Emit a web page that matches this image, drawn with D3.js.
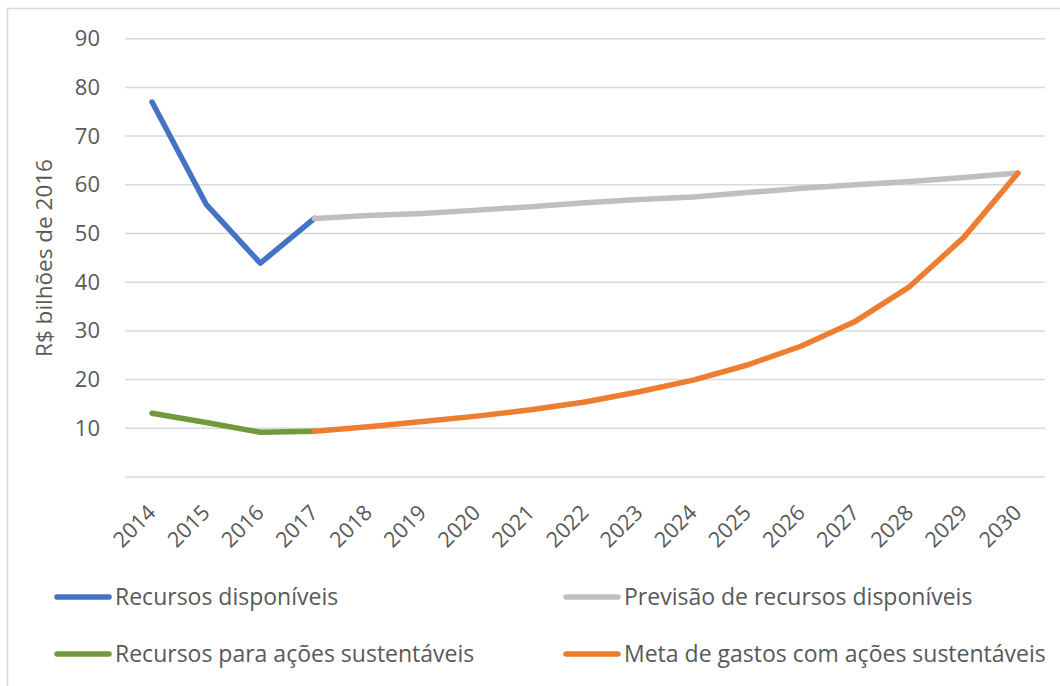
<!DOCTYPE html>
<html>
<head>
<meta charset="utf-8">
<script src="https://cdn.jsdelivr.net/npm/d3@7"></script>
<style>
  html, body { margin: 0; padding: 0; background: #fff; }
  svg { display: block; font-family: "Open Sans", "Noto Sans", sans-serif; }
</style>
</head>
<body>
<svg id="chart" width="1060" height="686"></svg>
<script>
// Anos do eixo horizontal
const years = ["2014","2015","2016","2017","2018","2019","2020","2021","2022",
               "2023","2024","2025","2026","2027","2028","2029","2030"];

// Séries em R$ bilhões de 2016 (null = sem valor naquele ano)
const recursosDisponiveis = [77.0, 56.0, 43.9, 53.1, null, null, null, null, null,
                             null, null, null, null, null, null, null, null];
const previsaoRecursos    = [null, null, null, 53.1, 53.7, 54.1, 54.8, 55.5, 56.3,
                             57.0, 57.5, 58.4, 59.3, 60.0, 60.7, 61.5, 62.4];
const recursosSustentaveis = [13.1, 11.2, 9.2, 9.4, null, null, null, null, null,
                              null, null, null, null, null, null, null, null];
const metaGastos          = [null, null, null, 9.4, 10.3, 11.4, 12.5, 13.8, 15.4,
                             17.5, 19.9, 23.0, 26.9, 32.0, 39.1, 49.2, 62.4];

const yTicks = [10, 20, 30, 40, 50, 60, 70, 80, 90];
const gridValues = [0, 10, 20, 30, 40, 50, 60, 70, 80, 90];

const series = [
  { name: "Recursos disponíveis", values: recursosDisponiveis, color: "#4472C4" },
  { name: "Previsão de recursos disponíveis", values: previsaoRecursos, color: "#BFBFBF" },
  { name: "Recursos para ações sustentáveis", values: recursosSustentaveis, color: "#72993C" },
  { name: "Meta de gastos com ações sustentáveis", values: metaGastos, color: "#ED7D31" }
];

const svg = d3.select("#chart");
const textColor = "#595959";

// Moldura do gráfico
svg.append("rect")
  .attr("x", 7.5).attr("y", 8.5)
  .attr("width", 1100).attr("height", 700)
  .attr("fill", "#fff")
  .attr("stroke", "#d9d9d9").attr("stroke-width", 1.5);

const x = d3.scaleBand().domain(years).range([125, 1045]);
const y = d3.scaleLinear().domain([0, 90]).range([477, 38.7]);
const cx = d => x(d) + x.bandwidth() / 2;

// Linhas de grade
svg.append("g").selectAll("line")
  .data(gridValues).join("line")
  .attr("x1", 125).attr("x2", 1045)
  .attr("y1", d => y(d)).attr("y2", d => y(d))
  .attr("stroke", "#d9d9d9").attr("stroke-width", 1.5);

// Eixo vertical (apenas rótulos)
const yAxis = d3.axisLeft(y).tickValues(yTicks).tickSize(0).tickPadding(0);
const gy = svg.append("g").attr("transform", "translate(100,0)").call(yAxis);
gy.select(".domain").remove();
gy.selectAll("text")
  .attr("fill", textColor)
  .style("font-size", "22px")
  .style("font-family", "'Open Sans', sans-serif");

// Eixo horizontal (rótulos inclinados)
const xAxis = d3.axisBottom(x).tickSize(0).tickPadding(0);
const gx = svg.append("g").attr("transform", "translate(0,477)").call(xAxis);
gx.select(".domain").remove();
gx.selectAll(".tick text")
  .attr("fill", textColor)
  .attr("y", 0).attr("dy", 0)
  .attr("text-anchor", "end")
  .attr("transform", "translate(5,37) rotate(-45)")
  .style("font-size", "21.5px")
  .style("font-family", "'Open Sans', sans-serif");

// Título do eixo vertical
svg.append("text")
  .attr("transform", "translate(52,258) rotate(-90)")
  .attr("text-anchor", "middle")
  .attr("fill", textColor)
  .style("font-size", "22.5px")
  .text("R$ bilhões de 2016");

// Linhas das séries
const line = d3.line()
  .defined(d => d.v !== null)
  .x(d => cx(d.year))
  .y(d => y(d.v));

svg.append("g").selectAll("path")
  .data(series).join("path")
  .attr("d", s => line(years.map((yr, i) => ({ year: yr, v: s.values[i] }))))
  .attr("fill", "none")
  .attr("stroke", s => s.color)
  .attr("stroke-width", 5.5)
  .attr("stroke-linejoin", "round")
  .attr("stroke-linecap", "round");

// Legenda em duas colunas
const legendPos = [
  { x: 55, y: 597 }, { x: 564, y: 597 },
  { x: 55, y: 654 }, { x: 564, y: 654 }
];
const lg = svg.append("g").selectAll("g")
  .data(series).join("g")
  .attr("transform", (d, i) => `translate(${legendPos[i].x},${legendPos[i].y})`);
lg.append("line")
  .attr("x1", 2).attr("x2", 54)
  .attr("stroke", d => d.color)
  .attr("stroke-width", 5.5)
  .attr("stroke-linecap", "round");
lg.append("text")
  .attr("x", 60).attr("dy", "0.35em")
  .attr("fill", textColor)
  .style("font-size", "23px")
  .text(d => d.name);
</script>
</body>
</html>
